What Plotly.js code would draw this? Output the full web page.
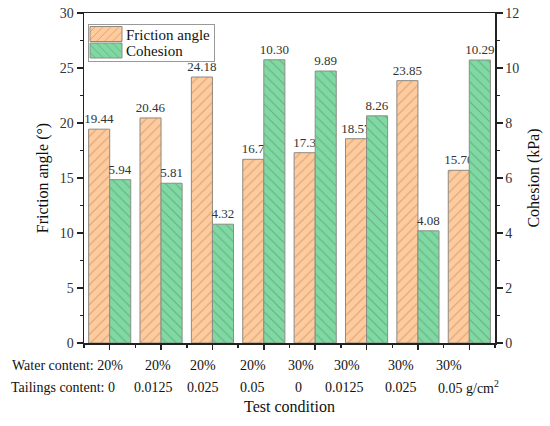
<!DOCTYPE html>
<html>
<head>
<meta charset="utf-8">
<script src="https://cdn.plot.ly/plotly-3.0.1.min.js"></script>
<style>html,body{margin:0;padding:0;background:#fff;}#chart{width:550px;height:426px;}</style>
</head>
<body>
<div id="chart"></div>
<script>
// ---- data ----
var conditionIndex = [0, 1, 2, 3, 4, 5, 6, 7];
var frictionAngle = [19.44, 20.46, 24.18, 16.7, 17.3, 18.57, 23.85, 15.70];
var frictionLabels = ["19.44", "20.46", "24.18", "16.7", "17.3", "18.57", "23.85", "15.70"];
var cohesion = [5.94, 5.81, 4.32, 10.30, 9.89, 8.26, 4.08, 10.29];
var cohesionLabels = ["5.94", "5.81", "4.32", "10.30", "9.89", "8.26", "4.08", "10.29"];
var waterLabels = ["Water content: 20%", "20%", "20%", "20%", "30%", "30%", "30%", "30%"];
var tailingsLabels = ["Tailings content: 0", "0.0125", "0.025", "0.05", "0", "0.0125", "0.025", "0.05 g/cm<sup>2</sup>"];

// ---- label placement (style) ----
var waterShift = [15, -3, -9, -11, -14, -20, -17, -20];
var tailShift = [7, -8, -9, -11, -17, -22, -17, -33];
var waterAnchor = ["right", "center", "center", "center", "center", "center", "center", "center"];
var tailAnchor = ["right", "center", "center", "center", "center", "center", "center", "left"];

var serif = "Liberation Serif, Times New Roman, serif";

var traces = [
  {
    type: "bar", name: "Friction angle", x: conditionIndex, y: frictionAngle,
    text: frictionLabels, textposition: "outside", cliponaxis: false, constraintext: "none",
    textfont: {family: serif, size: 13, color: "#333"},
    offsetgroup: "1", yaxis: "y",
    marker: {color: "#FFCA9C", line: {color: "#8f8a80", width: 1},
      pattern: {shape: "/", fillmode: "overlay", bgcolor: "#FFCA9C", fgcolor: "#a8825f", size: 7, solidity: 0.17}},
    hoverinfo: "skip"
  },
  {
    type: "bar", name: "Cohesion", x: conditionIndex, y: cohesion,
    text: cohesionLabels, textposition: "outside", cliponaxis: false, constraintext: "none",
    textfont: {family: serif, size: 13, color: "#333"},
    offsetgroup: "2", yaxis: "y2",
    marker: {color: "#7FD9A2", line: {color: "#8a8f85", width: 1},
      pattern: {shape: "\\", fillmode: "overlay", bgcolor: "#7FD9A2", fgcolor: "#5a8466", size: 7, solidity: 0.17}},
    hoverinfo: "skip"
  }
];

var annotations = [];
for (var i = 0; i < conditionIndex.length; i++) {
  annotations.push({xref: "x", yref: "paper", x: conditionIndex[i], y: 0, yanchor: "middle",
    xanchor: waterAnchor[i], xshift: waterShift[i], yshift: -22, showarrow: false,
    text: waterLabels[i], font: {family: serif, size: 14, color: "#111"}});
  annotations.push({xref: "x", yref: "paper", x: conditionIndex[i], y: 0, yanchor: "middle",
    xanchor: tailAnchor[i], xshift: tailShift[i], yshift: -44, showarrow: false,
    text: tailingsLabels[i], font: {family: serif, size: 14, color: "#111"}});
}

var layout = {
  width: 550, height: 426,
  margin: {l: 84, r: 55, t: 13, b: 83},
  paper_bgcolor: "#fff", plot_bgcolor: "#fff",
  barmode: "group", bargap: 0.18, bargroupgap: 0,
  showlegend: true,
  legend: {x: 0.01, y: 0.97, xanchor: "left", yanchor: "top",
    bgcolor: "#fff", bordercolor: "#999", borderwidth: 1,
    font: {family: serif, size: 15, color: "#111"}, tracegroupgap: 0},
  font: {family: serif, color: "#222"},
  xaxis: {
    range: [-0.5, 7.5], showgrid: false, zeroline: false,
    showline: true, linecolor: "#222", linewidth: 1.5, mirror: true,
    tickmode: "array", tickvals: conditionIndex, showticklabels: false,
    ticks: "outside", ticklen: 5, tickwidth: 1.5, tickcolor: "#222",
    minor: {tickmode: "array", tickvals: [-0.5, 0.5, 1.5, 2.5, 3.5, 4.5, 5.5, 6.5, 7.5], ticks: "outside", ticklen: 3, tickwidth: 1.5, tickcolor: "#222", showgrid: false},
    title: {text: "Test condition", font: {family: serif, size: 16, color: "#111"}, standoff: 52}
  },
  yaxis: {
    range: [0, 30], dtick: 5, showgrid: false, zeroline: false,
    showline: true, linecolor: "#222", linewidth: 1.5,
    ticks: "outside", ticklen: 6, tickwidth: 1.5, tickcolor: "#222",
    minor: {dtick: 2.5, ticks: "outside", ticklen: 3, tickwidth: 1.5, tickcolor: "#222", showgrid: false},
    tickfont: {family: serif, size: 14, color: "#333"},
    title: {text: "Friction angle (°)", font: {family: serif, size: 16, color: "#111"}, standoff: 7}
  },
  yaxis2: {
    range: [0, 12], dtick: 2, overlaying: "y", side: "right", showgrid: false, zeroline: false,
    showline: true, linecolor: "#222", linewidth: 1.5,
    ticks: "outside", ticklen: 6, tickwidth: 1.5, tickcolor: "#222",
    minor: {dtick: 1, ticks: "outside", ticklen: 3, tickwidth: 1.5, tickcolor: "#222", showgrid: false},
    tickfont: {family: serif, size: 14, color: "#333"},
    title: {text: "Cohesion (kPa)", font: {family: serif, size: 16, color: "#111"}, standoff: 9}
  },
  annotations: annotations
};

Plotly.newPlot("chart", traces, layout, {staticPlot: true, displayModeBar: false}).then(function(gd) {
  // compact the legend box to the reference's tight layout with wide keys
  var leg = gd.querySelector(".legend");
  if (!leg) return;
  leg.setAttribute("transform", "translate(88,24)");
  var bg = leg.querySelector("rect.bg");
  if (bg) {
    bg.setAttribute("x", "0.5"); bg.setAttribute("y", "0.5");
    bg.setAttribute("width", "126"); bg.setAttribute("height", "37");
  }
  var items = leg.querySelectorAll(".traces");
  var ys = [10, 26.5];
  items.forEach(function(it, k) {
    it.setAttribute("transform", "translate(0," + ys[k] + ")");
    var txt = it.querySelector("text.legendtext");
    if (txt) txt.setAttribute("x", "38");
    it.querySelectorAll(".legendpoints path").forEach(function(p) {
      p.removeAttribute("transform");
      p.setAttribute("d", "M2,-7.5H34V7.5H2Z");
    });
  });
});
</script>
</body>
</html>
